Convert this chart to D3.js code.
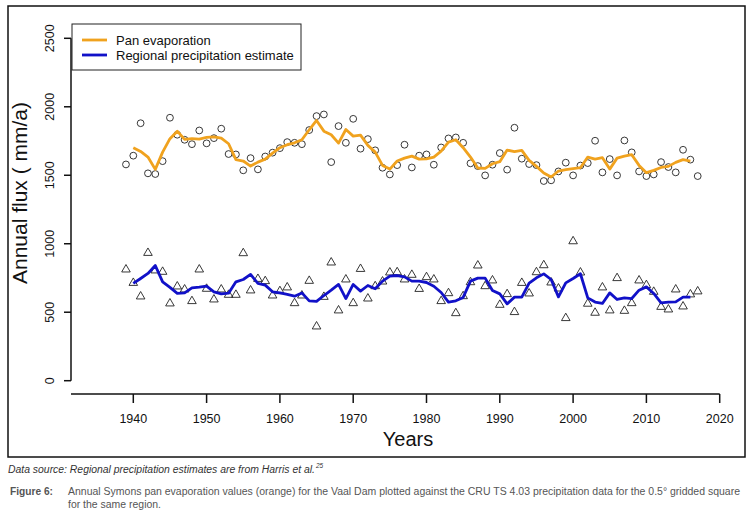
<!DOCTYPE html>
<html>
<head>
<meta charset="utf-8">
<script src="https://cdn.jsdelivr.net/npm/d3@7"></script>
<style>
  body { margin: 0; background: #fff; }
  text { font-family: "Liberation Sans", Arial, sans-serif; }
  .cap { font-family: "Liberation Sans Narrow", "Liberation Sans", Arial, sans-serif; }
</style>
</head>
<body>
<script>
// Size of the whole picture
var width = 754;
var height = 523;

// years with observations
var years = d3.range(1939, 2018);
// years covered by the smoothed lines
var lineYears = d3.range(1940, 2017);

// annual pan evaporation (mm/a), 1939-2017
var panEvap = [1579, 1643, 1880, 1514, 1509, 1603, 1920, 1796, 1759, 1727,
  1827, 1733, 1771, 1840, 1655, 1652, 1536, 1625, 1543, 1637,
  1665, 1698, 1742, 1737, 1727, 1830, 1932, 1944, 1596, 1859,
  1737, 1912, 1694, 1764, 1682, 1555, 1506, 1574, 1723, 1557,
  1643, 1652, 1577, 1703, 1769, 1776, 1737, 1587, 1567, 1499,
  1577, 1662, 1541, 1847, 1621, 1582, 1574, 1458, 1463, 1528,
  1592, 1499, 1571, 1589, 1752, 1521, 1618, 1499, 1754, 1667,
  1528, 1494, 1506, 1596, 1560, 1521, 1686, 1614, 1494];

// orange line, 1940-2016
var panLine = [1701, 1674, 1633, 1543, 1669, 1767, 1822, 1762, 1767, 1764,
  1776, 1781, 1771, 1730, 1614, 1604, 1567, 1596, 1618, 1662,
  1701, 1723, 1737, 1759, 1832, 1900, 1822, 1796, 1735, 1834,
  1786, 1793, 1718, 1669, 1572, 1545, 1604, 1625, 1640, 1618,
  1620, 1633, 1676, 1742, 1759, 1701, 1633, 1553, 1550, 1584,
  1599, 1684, 1672, 1682, 1609, 1565, 1516, 1487, 1531, 1541,
  1549, 1555, 1633, 1618, 1628, 1545, 1625, 1640, 1650, 1572,
  1519, 1536, 1557, 1565, 1594, 1614, 1604];

// regional precipitation (mm/a), 1939-2017
var precip = [812, 714, 615, 933, 805, 795, 564, 688, 666, 581,
  812, 671, 593, 666, 627, 627, 931, 659, 743, 727,
  622, 654, 681, 566, 622, 729, 396, 612, 863, 513,
  739, 566, 816, 600, 690, 724, 790, 792, 739, 773,
  670, 756, 739, 581, 639, 493, 617, 719, 841, 690,
  732, 554, 632, 501, 714, 637, 792, 843, 717, 673,
  457, 1018, 790, 562, 496, 681, 513, 749, 510, 566,
  732, 698, 649, 539, 520, 666, 542, 630, 652];

// blue line, 1940-2016
var precipLine = [710, 746, 783, 841, 722, 681, 637, 641, 678, 683,
  690, 649, 634, 639, 722, 739, 776, 710, 698, 649,
  641, 630, 617, 641, 583, 579, 622, 661, 703, 600,
  703, 654, 695, 671, 727, 763, 768, 758, 727, 727,
  717, 690, 644, 574, 583, 608, 727, 749, 749, 659,
  634, 561, 610, 610, 712, 751, 780, 739, 612, 714,
  746, 781, 605, 574, 564, 641, 593, 605, 600, 661,
  685, 637, 569, 574, 576, 610, 610];

var xTicks = [1940, 1950, 1960, 1970, 1980, 1990, 2000, 2010, 2020];
var yTicks = [0, 500, 1000, 1500, 2000, 2500];
var legendLabels = ["Pan evaporation", "Regional precipitation estimate"];

var orange = "#f0a21e";
var blue = "#1111c8";

var svg = d3.select("body")
  .append("svg")
  .attr("width", width)
  .attr("height", height);

var x = d3.scaleLinear().domain([1940, 2020]).range([133.3, 719.7]);
var y = d3.scaleLinear().domain([0, 2500]).range([380.7, 38.3]);

// outer frame
svg.append("rect")
  .attr("x", 8).attr("y", 6)
  .attr("width", 737).attr("height", 451)
  .attr("fill", "none")
  .attr("stroke", "#111")
  .attr("stroke-width", 1.5);

// x axis (line reaches back to the y axis)
var xAxis = svg.append("g");
xAxis.append("line")
  .attr("x1", 71).attr("x2", x(2020))
  .attr("y1", 394).attr("y2", 394)
  .attr("stroke", "#111").attr("stroke-width", 1.5);
xAxis.selectAll(".xt")
  .data(xTicks)
  .enter().append("line")
  .attr("x1", function(d) { return x(d); })
  .attr("x2", function(d) { return x(d); })
  .attr("y1", 394).attr("y2", 403)
  .attr("stroke", "#111").attr("stroke-width", 1.5);
xAxis.selectAll(".xl")
  .data(xTicks)
  .enter().append("text")
  .attr("x", function(d) { return x(d); })
  .attr("y", 423)
  .attr("text-anchor", "middle")
  .attr("font-size", 12.5)
  .attr("fill", "#111")
  .text(function(d) { return d; });

svg.append("text")
  .attr("x", 408).attr("y", 446)
  .attr("text-anchor", "middle")
  .attr("font-size", 20)
  .attr("fill", "#111")
  .text("Years");

// y axis
var yAxis = svg.append("g");
yAxis.append("line")
  .attr("x1", 71).attr("x2", 71)
  .attr("y1", y(0)).attr("y2", y(2500))
  .attr("stroke", "#111").attr("stroke-width", 1.5);
yAxis.selectAll(".yt")
  .data(yTicks)
  .enter().append("line")
  .attr("x1", 64).attr("x2", 71)
  .attr("y1", function(d) { return y(d); })
  .attr("y2", function(d) { return y(d); })
  .attr("stroke", "#111").attr("stroke-width", 1.5);
yAxis.selectAll(".yl")
  .data(yTicks)
  .enter().append("text")
  .attr("transform", function(d) { return "translate(54," + y(d) + ") rotate(-90)"; })
  .attr("text-anchor", "middle")
  .attr("font-size", 12.5)
  .attr("fill", "#111")
  .text(function(d) { return d; });

svg.append("text")
  .attr("transform", "translate(27,193) rotate(-90)")
  .attr("text-anchor", "middle")
  .attr("font-size", 21)
  .attr("fill", "#111")
  .text("Annual flux ( mm/a)");

// points
svg.append("g").selectAll("circle")
  .data(panEvap)
  .enter().append("circle")
  .attr("cx", function(d, i) { return x(years[i]); })
  .attr("cy", function(d) { return y(d); })
  .attr("r", 3.4)
  .attr("fill", "none")
  .attr("stroke", "#222")
  .attr("stroke-width", 0.9);

var tri = d3.symbol().type(d3.symbolTriangle).size(32);
svg.append("g").selectAll("path")
  .data(precip)
  .enter().append("path")
  .attr("d", tri)
  .attr("transform", function(d, i) { return "translate(" + x(years[i]) + "," + y(d) + ")"; })
  .attr("fill", "none")
  .attr("stroke", "#222")
  .attr("stroke-width", 0.9);

// smoothed lines
var line = d3.line()
  .x(function(d, i) { return x(lineYears[i]); })
  .y(function(d) { return y(d); });

svg.append("path")
  .datum(panLine)
  .attr("d", line)
  .attr("fill", "none")
  .attr("stroke", orange)
  .attr("stroke-width", 2.8)
  .attr("stroke-linejoin", "round");

svg.append("path")
  .datum(precipLine)
  .attr("d", line)
  .attr("fill", "none")
  .attr("stroke", blue)
  .attr("stroke-width", 2.8)
  .attr("stroke-linejoin", "round");

// legend
var legend = svg.append("g");
legend.append("rect")
  .attr("x", 72).attr("y", 24)
  .attr("width", 229).attr("height", 46)
  .attr("fill", "#fff")
  .attr("stroke", "#222")
  .attr("stroke-width", 1);
legend.selectAll(".ll")
  .data(legendLabels)
  .enter().append("line")
  .attr("x1", 82).attr("x2", 107)
  .attr("y1", function(d, i) { return 40 + i * 15; })
  .attr("y2", function(d, i) { return 40 + i * 15; })
  .attr("stroke", function(d, i) { return i == 0 ? orange : blue; })
  .attr("stroke-width", 2.8);
legend.selectAll(".lt")
  .data(legendLabels)
  .enter().append("text")
  .attr("x", 116)
  .attr("y", function(d, i) { return 44.5 + i * 15; })
  .attr("font-size", 13)
  .attr("fill", "#111")
  .text(function(d) { return d; });

// caption
svg.append("text")
  .attr("class", "cap")
  .attr("x", 8).attr("y", 473)
  .attr("font-size", 10)
  .attr("font-style", "italic")
  .attr("fill", "#333")
  .attr("textLength", 307)
  .attr("lengthAdjust", "spacingAndGlyphs")
  .text("Data source: Regional precipitation estimates are from Harris et al.");
svg.append("text")
  .attr("class", "cap")
  .attr("x", 316).attr("y", 468)
  .attr("font-size", 6.5)
  .attr("font-style", "italic")
  .attr("fill", "#333")
  .text("25");

svg.append("text")
  .attr("class", "cap")
  .attr("x", 10).attr("y", 495)
  .attr("font-size", 11)
  .attr("font-weight", "bold")
  .attr("fill", "#555")
  .attr("textLength", 43)
  .attr("lengthAdjust", "spacingAndGlyphs")
  .text("Figure 6:");
svg.append("text")
  .attr("class", "cap")
  .attr("x", 68).attr("y", 495)
  .attr("font-size", 10.5)
  .attr("fill", "#555")
  .attr("textLength", 672)
  .attr("lengthAdjust", "spacingAndGlyphs")
  .text("Annual Symons pan evaporation values (orange) for the Vaal Dam plotted against the CRU TS 4.03 precipitation data for the 0.5° gridded square");
svg.append("text")
  .attr("class", "cap")
  .attr("x", 68).attr("y", 508)
  .attr("font-size", 11)
  .attr("fill", "#555")
  .attr("textLength", 93)
  .attr("lengthAdjust", "spacingAndGlyphs")
  .text("for the same region.");
</script>
</body>
</html>
